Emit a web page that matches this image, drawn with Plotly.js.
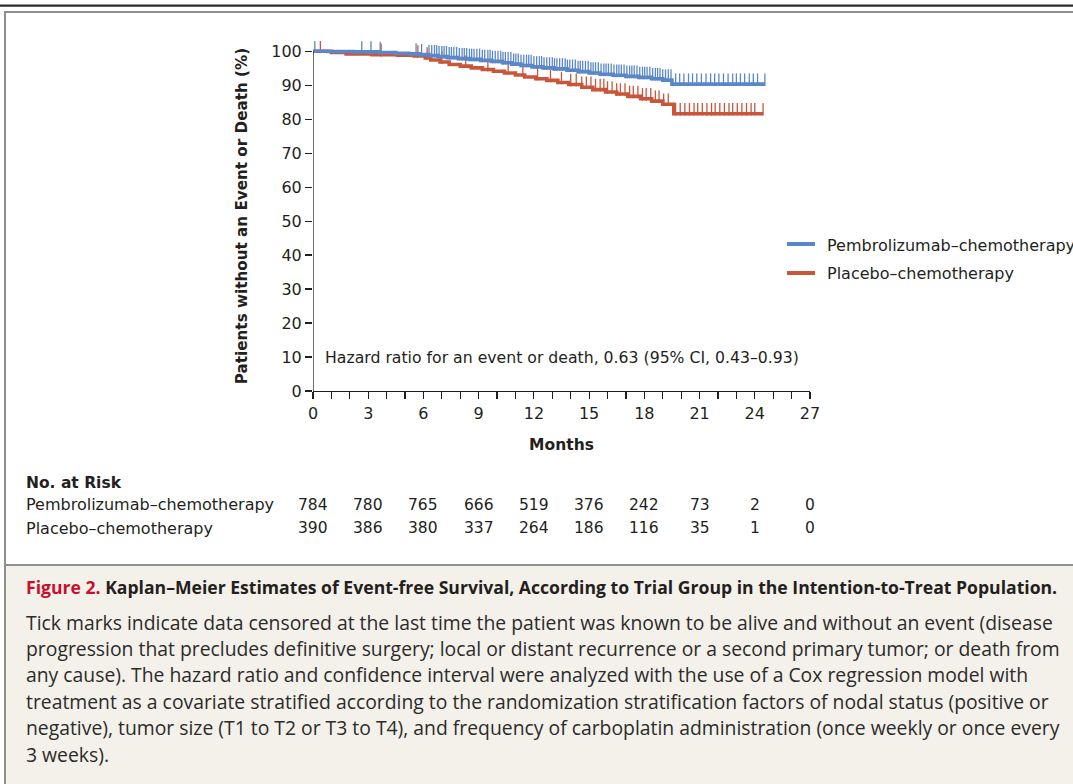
<!DOCTYPE html>
<html><head><meta charset="utf-8">
<script src="https://cdn.plot.ly/plotly-3.0.1.min.js"></script>
<style>html,body{margin:0;padding:0;background:#fff;overflow:hidden}#chart{width:1073px;height:784px}</style>
</head><body><div id="chart"></div>
<script>
// ---------------- DATA ----------------
const seriesNames = ['Pembrolizumab–chemotherapy', 'Placebo–chemotherapy'];

// Kaplan–Meier steps (months, % without event)
const pembroTimes = [0, 0.8, 2.2, 3.6, 4.5, 5.2, 5.8, 6.3, 6.8, 7.3, 7.9, 8.5, 9.1, 9.7, 10.3, 10.8, 11.3, 11.9, 12.5, 13.1, 13.8, 14.4, 15.0, 15.6, 16.3, 17.0, 17.7, 18.4, 19.0, 19.5, 24.55];
const pembroSurv  = [100, 99.9, 99.8, 99.6, 99.4, 99.2, 99.0, 98.7, 98.4, 98.1, 97.8, 97.6, 97.3, 97.0, 96.6, 96.2, 95.8, 95.4, 95.1, 94.8, 94.4, 94.0, 93.6, 93.2, 92.9, 92.6, 92.3, 91.9, 91.5, 90.3, 90.3];

const placeboTimes = [0, 1.0, 1.8, 3.2, 4.6, 5.5, 6.1, 6.4, 6.9, 7.4, 8.0, 8.6, 9.2, 9.8, 10.4, 11.0, 11.5, 12.1, 12.7, 13.3, 13.9, 14.6, 15.2, 15.9, 16.5, 17.1, 17.8, 18.4, 19.0, 19.6, 24.45];
const placeboSurv  = [100, 99.6, 99.2, 99.0, 98.8, 98.6, 98.0, 97.4, 96.8, 96.1, 95.6, 95.1, 94.6, 94.1, 93.6, 93.0, 92.4, 91.9, 91.4, 90.8, 90.2, 89.4, 88.7, 88.0, 87.4, 86.7, 86.0, 85.3, 84.4, 81.6, 81.6];

// censoring times (months)
const pembroCensor = [0.1, 2.65, 3.15, 3.65, 5.6, 5.9, 6.3, 6.45, 6.6, 6.72, 6.85, 7.0, 7.12, 7.25, 7.4, 7.52, 7.65, 7.8, 7.95, 8.1, 8.22, 8.35, 8.5, 8.62, 8.75, 8.9, 9.05, 9.2, 9.33, 9.5, 9.62, 9.75, 9.9, 10.05, 10.2, 10.32, 10.45, 10.6, 10.75, 10.9, 11.02, 11.15, 11.3, 11.45, 11.6, 11.72, 11.85, 12.0, 12.15, 12.3, 12.42, 12.55, 12.7, 12.85, 13.0, 13.12, 13.25, 13.4, 13.55, 13.7, 13.82, 13.95, 14.1, 14.25, 14.4, 14.52, 14.65, 14.8, 14.95, 15.1, 15.22, 15.35, 15.5, 15.65, 15.8, 15.92, 16.05, 16.2, 16.35, 16.5, 16.62, 16.75, 16.9, 17.05, 17.2, 17.32, 17.45, 17.6, 17.75, 17.9, 18.02, 18.15, 18.3, 18.45, 18.6, 18.72, 18.85, 19.0, 19.15, 19.3, 19.45, 19.7, 19.92, 20.15, 20.4, 20.62, 20.85, 21.1, 21.35, 21.6, 21.82, 22.05, 22.3, 22.55, 22.8, 23.0, 23.22, 23.45, 23.7, 23.92, 24.15, 24.55];
const placeboCensor = [0.4, 3.7, 5.7, 6.2, 7.0, 8.3, 9.5, 10.6, 11.4, 12.2, 12.9, 13.5, 14.0, 14.3, 14.6, 14.85, 15.1, 15.35, 15.6, 15.8, 16.0, 16.25, 16.5, 16.7, 16.95, 17.2, 17.4, 17.65, 17.9, 18.1, 18.35, 18.6, 18.8, 19.05, 19.3, 19.7, 19.95, 20.2, 20.45, 20.7, 20.9, 21.15, 21.4, 21.65, 21.85, 22.1, 22.35, 22.6, 22.8, 23.05, 23.3, 23.55, 23.8, 24.0, 24.45];

// number at risk
const riskMonths     = [0, 3, 6, 9, 12, 15, 18, 21, 24, 27];
const pembroAtRisk   = [784, 780, 765, 666, 519, 376, 242, 73, 2, 0];
const placeboAtRisk  = [390, 386, 380, 337, 264, 186, 116, 35, 1, 0];

// axis ticks
const xTickVals = [0,1,2,3,4,5,6,7,8,9,10,11,12,13,14,15,16,17,18,19,20,21,22,23,24,25,26,27];
const xTickText = ['0','','','3','','','6','','','9','','','12','','','15','','','18','','','21','','','24','','','27'];
const yTickVals = [0,10,20,30,40,50,60,70,80,90,100];

const hazardText = 'Hazard ratio for an event or death, 0.63 (95% CI, 0.43–0.93)';
const captionTitle = '<span style="color:#c8102e">Figure 2.</span> Kaplan–Meier Estimates of Event-free Survival, According to Trial Group in the Intention-to-Treat Population.';
const captionLines = [
  'Tick marks indicate data censored at the last time the patient was known to be alive and without an event (disease',
  'progression that precludes definitive surgery; local or distant recurrence or a second primary tumor; or death from',
  'any cause). The hazard ratio and confidence interval were analyzed with the use of a Cox regression model with',
  'treatment as a covariate stratified according to the randomization stratification factors of nodal status (positive or',
  'negative), tumor size (T1 to T2 or T3 to T4), and frequency of carboplatin administration (once weekly or once every',
  '3 weeks).'
];

// ---------------- LAYOUT ----------------
const W = 1073, H = 784;
const L = 313, R = 263, T = 41, B = 393;
const plotW = W - L - R, plotH = H - T - B;
const px2x = px => (px - L) / plotW;
const py2y = py => (H - B - py) / plotH;

const BLUE = '#5a87c8', RED = '#c9553a', INK = '#231f20';
const chartFont = 'DejaVu Sans, sans-serif';
const capFont = 'Open Sans, sans-serif';

function survAt(times, surv, t) {
  let s = surv[0];
  for (let i = 0; i < times.length; i++) if (times[i] <= t) s = surv[i];
  return s;
}
const tickLift = 1.3;

const traces = [
  {x: placeboTimes, y: placeboSurv, mode: 'lines', line: {shape: 'hv', color: RED, width: 3.6}, showlegend: false, hoverinfo: 'skip'},
  {x: placeboCensor, y: placeboCensor.map(t => survAt(placeboTimes, placeboSurv, t) + tickLift), mode: 'markers',
   marker: {symbol: 'line-ns', size: 9, line: {color: RED, width: 1.3}}, showlegend: false, hoverinfo: 'skip'},
  {x: pembroTimes, y: pembroSurv, mode: 'lines', line: {shape: 'hv', color: BLUE, width: 3.6}, showlegend: false, hoverinfo: 'skip'},
  {x: pembroCensor, y: pembroCensor.map(t => survAt(pembroTimes, pembroSurv, t) + tickLift), mode: 'markers',
   marker: {symbol: 'line-ns', size: 9, line: {color: BLUE, width: 1.3}}, showlegend: false, hoverinfo: 'skip'}
];

const annotations = [];
const A = (o) => annotations.push(Object.assign({showarrow: false, xref: 'paper', yref: 'paper', xanchor: 'left', yanchor: 'middle'}, o));

// hazard ratio
A({x: px2x(323), y: py2y(357), text: hazardText, font: {family: chartFont, size: 15.7, color: INK}});
// legend
A({x: px2x(825), y: py2y(245), text: seriesNames[0], font: {family: chartFont, size: 16, color: INK}});
A({x: px2x(825), y: py2y(273), text: seriesNames[1], font: {family: chartFont, size: 16, color: INK}});
// at risk
A({x: px2x(24), y: py2y(483), text: '<b>No. at Risk</b>', font: {family: chartFont, size: 15.5, color: INK}});
A({x: px2x(24), y: py2y(505), text: seriesNames[0], font: {family: chartFont, size: 16, color: INK}});
A({x: px2x(24), y: py2y(528), text: seriesNames[1], font: {family: chartFont, size: 16, color: INK}});
riskMonths.forEach((m, i) => {
  A({xref: 'x', x: m, xanchor: 'center', y: py2y(505), text: String(pembroAtRisk[i]), font: {family: chartFont, size: 15.5, color: INK}});
  A({xref: 'x', x: m, xanchor: 'center', y: py2y(528), text: String(placeboAtRisk[i]), font: {family: chartFont, size: 15.5, color: INK}});
});
// caption
A({x: px2x(24), y: py2y(587), text: '<b>' + captionTitle + '</b>', font: {family: capFont, size: 17.6, color: INK}});
captionLines.forEach((ln, i) => {
  A({x: px2x(24), y: py2y(622 + i * 26.4), text: ln, font: {family: capFont, size: 19.35, color: '#2b2b2b'}});
});

const shapes = [
  // page rules
  {type: 'line', xref: 'paper', yref: 'paper', x0: px2x(0), x1: px2x(1080), y0: py2y(5.7), y1: py2y(5.7), line: {color: '#2a2a2a', width: 2.2}},
  {type: 'rect', xref: 'paper', yref: 'paper', x0: px2x(5), x1: px2x(1085), y0: py2y(565), y1: py2y(790), fillcolor: '#f4f1ea', line: {width: 0}, layer: 'below'},
  {type: 'line', xref: 'paper', yref: 'paper', x0: px2x(4), x1: px2x(1080), y0: py2y(12), y1: py2y(12), line: {color: '#8f8f8f', width: 2}},
  {type: 'line', xref: 'paper', yref: 'paper', x0: px2x(5), x1: px2x(5), y0: py2y(11), y1: py2y(790), line: {color: '#8f8f8f', width: 2}},
  {type: 'line', xref: 'paper', yref: 'paper', x0: px2x(5), x1: px2x(1080), y0: py2y(565), y1: py2y(565), line: {color: '#8f8f8f', width: 2}},
  // y axis line up to 100
  {type: 'line', xref: 'x', yref: 'y', x0: 0, x1: 0, y0: 0, y1: 100, line: {color: INK, width: 1.3}},
  // legend samples
  {type: 'line', xref: 'paper', yref: 'paper', x0: px2x(787), x1: px2x(815), y0: py2y(244), y1: py2y(244), line: {color: BLUE, width: 4}},
  {type: 'line', xref: 'paper', yref: 'paper', x0: px2x(787), x1: px2x(815), y0: py2y(273), y1: py2y(273), line: {color: RED, width: 4}}
];

const layout = {
  width: W, height: H,
  margin: {l: L, r: R, t: T, b: B, autoexpand: false},
  paper_bgcolor: '#ffffff', plot_bgcolor: 'rgba(0,0,0,0)',
  showlegend: false,
  font: {family: chartFont, color: INK},
  xaxis: {
    range: [0, 27], tickmode: 'array', tickvals: xTickVals, ticktext: xTickText,
    ticks: 'outside', ticklen: 7, tickwidth: 1.2, tickcolor: INK,
    showline: true, linecolor: INK, linewidth: 1.3, showgrid: false, zeroline: false,
    tickfont: {family: chartFont, size: 16, color: INK},
    title: {text: '<b>Months</b>', font: {family: chartFont, size: 15.5, color: INK}, standoff: 17},
    fixedrange: true
  },
  yaxis: {
    range: [0, 103], tickmode: 'array', tickvals: yTickVals,
    ticks: 'outside', ticklen: 7, tickwidth: 1.2, tickcolor: INK,
    showline: false, showgrid: false, zeroline: false,
    tickfont: {family: chartFont, size: 16, color: INK},
    title: {text: '<b>Patients without an Event or Death (%)</b>', font: {family: chartFont, size: 15.2, color: INK}, standoff: 19},
    fixedrange: true
  },
  annotations: annotations,
  shapes: shapes
};

Plotly.newPlot('chart', traces, layout, {staticPlot: true, displayModeBar: false});
</script>
</body></html>
